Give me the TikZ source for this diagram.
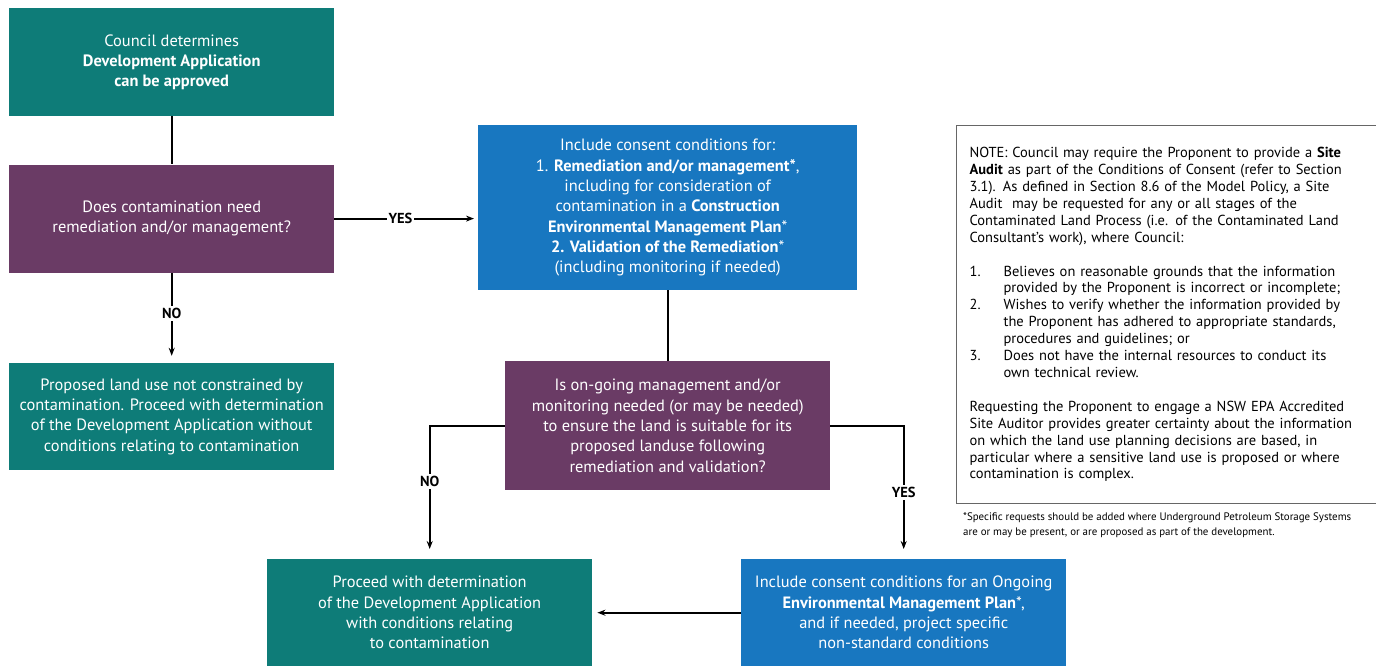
\documentclass[tikz,border=0pt]{standalone}
\usepackage{fontspec}
\setmainfont{PT Sans}
\usetikzlibrary{positioning,arrows.meta}
\definecolor{ctteal}{HTML}{0E7C78}
\definecolor{ctplum}{HTML}{6A3B65}
\definecolor{ctblue}{HTML}{1877C0}
\definecolor{ctrule}{gray}{0.4}

\begin{document}
\begin{tikzpicture}[x=1pt, y=-1pt,
  font=\fontsize{16.4}{20.3}\selectfont,
  box/.style={minimum width=325pt, minimum height=108pt, align=center,
              text=white, inner sep=0pt, anchor=north west},
  act/.style={box, fill=ctteal},
  ask/.style={box, fill=ctplum},
  cond/.style={box, fill=ctblue},
  link/.style={line width=1.9pt},
  go/.style={link, -{Stealth[length=8pt,width=6pt]}},
  tag/.style={fill=white, font=\fontsize{14.5}{16}\selectfont\bfseries, inner sep=2pt}]
  \useasboundingbox (0,0) rectangle (1376,666);
  \node[act] (approve) at (9,8)
    {\rule{0pt}{6pt}Council determines\\ \textbf{Development Application}\\ \textbf{can be approved}};
  \node[ask, below=48pt of approve] (needrem)
    {Does contamination need\\ remediation and/or management?};
  \node[act, below=90pt of needrem, minimum height=107pt] (noconstr)
    {Proposed land use not constrained by\\ contamination. Proceed with determination\\
     of the Development Application without\\ conditions relating to contamination};
  \node[cond, minimum width=379pt, minimum height=165pt] (conds) at (478,125)
    {Include consent conditions for:\\
     1. \textbf{Remediation and/or management*},\\
     including for consideration of\\
     contamination in a \textbf{Construction}\\
     \textbf{Environmental Management Plan}*\\
     \textbf{2. Validation of the Remediation}*\\
     (including monitoring if needed)};
  \node[ask, minimum height=129pt] (ongoing) at (505,361)
    {Is on-going management and/or\\ monitoring needed (or may be needed)\\
     to ensure the land is suitable for its\\ proposed landuse following\\
     remediation and validation?};
  \node[act, minimum height=107pt] (proceed) at (267,559)
    {Proceed with determination\\ of the Development Application\\
     with conditions relating\\ to contamination};
  \node[cond, minimum height=107pt] (oemp) at (741,559)
    {Include consent conditions for an Ongoing\\
     \textbf{Environmental Management Plan}*,\\
     and if needed, project specific\\ non-standard conditions};
  % note and footnote
  \node[draw=ctrule, line width=1.2pt, anchor=north west, minimum width=413pt,
        minimum height=378pt, text width=397pt, inner xsep=13pt, align=left,
        font=\fontsize{14.5}{16.9}\selectfont] (note) at (956,125)
    {NOTE: Council may require the Proponent to provide a \textbf{Site}\\
     \textbf{Audit} as part of the Conditions of Consent (refer to Section\\
     3.1). As defined in Section 8.6 of the Model Policy, a Site\\
     Audit\ \ may be requested for any or all stages of the\\
     Contaminated Land Process (i.e. of the Contaminated Land\\
     Consultant's work), where Council:\\[17pt]
     \makebox[34pt][l]{1.}Believes on reasonable grounds that the information\\
     \hspace*{34pt}provided by the Proponent is incorrect or incomplete;\\
     \makebox[34pt][l]{2.}Wishes to verify whether the information provided by\\
     \hspace*{34pt}the Proponent has adhered to appropriate standards,\\
     \hspace*{34pt}procedures and guidelines; or\\
     \makebox[34pt][l]{3.}Does not have the internal resources to conduct its\\
     \hspace*{34pt}own technical review.\\[17pt]
     Requesting the Proponent to engage a NSW EPA Accredited\\
     Site Auditor provides greater certainty about the information\\
     on which the land use planning decisions are based, in\\
     particular where a sensitive land use is proposed or where\\
     contamination is complex.};
  \node[anchor=north west, align=left, inner sep=0pt,
        font=\fontsize{10.9}{15}\selectfont] (foot) at (963,513)
    {*Specific requests should be added where Underground Petroleum Storage Systems\\
     are or may be present, or are proposed as part of the development.};
  % connectors
  \draw[link] (approve) -- (needrem);
  \draw[go, shorten >=7pt] (needrem) -- node[tag, pos=0.45] {NO} (noconstr);
  \draw[go, shorten >=4pt] (needrem.east) -- node[tag, pos=0.46] {YES} (conds.west |- needrem.east);
  \draw[link] (conds) -- (ongoing);
  \draw[go, shorten >=10pt] (ongoing.west) -| node[tag, pos=0.71] {NO} (proceed.north);
  \draw[go, shorten >=10pt] (ongoing.east) -| node[tag, pos=0.75] {YES} (oemp.north);
  \draw[go, shorten >=5pt] (oemp.west) -- (proceed.east);
\end{tikzpicture}
\end{document}
